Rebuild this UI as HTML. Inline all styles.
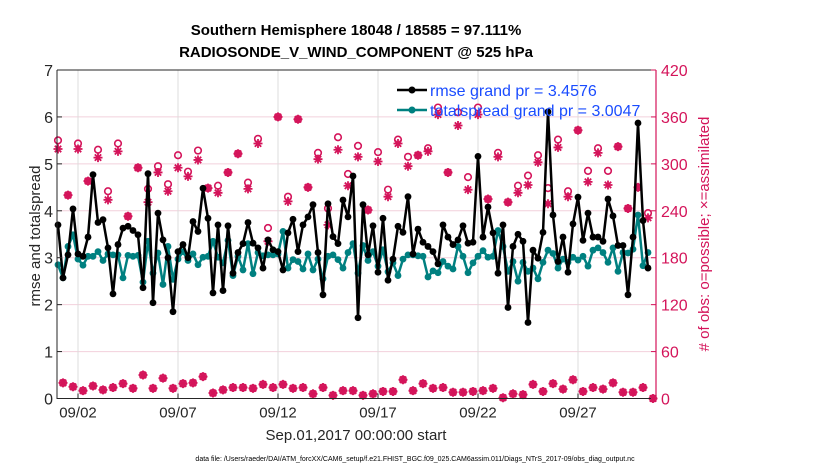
<!DOCTYPE html>
<html><head><meta charset="utf-8"><style>
html,body{margin:0;padding:0;background:#fff;}
svg{display:block;font-family:"Liberation Sans",Arial,sans-serif;}
</style></head><body>
<svg id="chart" width="830" height="470" viewBox="0 0 830 470" xmlns="http://www.w3.org/2000/svg">
<text x="356" y="35" text-anchor="middle" font-size="15" font-weight="bold" fill="#000">Southern Hemisphere 18048 / 18585 = 97.111%</text>
<text x="356" y="57" text-anchor="middle" font-size="15" font-weight="bold" fill="#000">RADIOSONDE_V_WIND_COMPONENT @ 525 hPa</text>
<g id="grid"></g>
<g id="marks"></g>
<g id="axes"></g>
<text x="356" y="440" text-anchor="middle" font-size="15" fill="#262626">Sep.01,2017 00:00:00 start</text>
<text transform="translate(40,236) rotate(-90)" text-anchor="middle" font-size="15" fill="#262626">rmse and totalspread</text>
<text transform="translate(709,234) rotate(-90)" text-anchor="middle" font-size="15" fill="#d4145a"># of obs: o=possible; ×=assimilated</text>
<text x="415" y="461" text-anchor="middle" font-size="7" fill="#000">data file: /Users/raeder/DAI/ATM_forcXX/CAM6_setup/f.e21.FHIST_BGC.f09_025.CAM6assim.011/Diags_NTrS_2017-09/obs_diag_output.nc</text>
<g id="legend">
<line x1="397" y1="90" x2="427" y2="90" stroke="#000" stroke-width="2.5"/>
<circle cx="412" cy="90" r="3.5" fill="#000"/>
<text x="430" y="96" font-size="16" fill="#1a4cff">rmse grand pr = 3.4576</text>
<line x1="397" y1="110" x2="427" y2="110" stroke="#008080" stroke-width="2.5"/>
<circle cx="412" cy="110" r="3.5" fill="#008080"/>
<text x="430" y="116" font-size="16" fill="#1a4cff">totalspread grand pr = 3.0047</text>
</g>
</svg>
<script>
const rmse=[3.70,2.57,3.06,4.04,3.08,3.03,3.44,4.77,3.75,3.81,3.21,2.23,3.28,3.63,3.67,3.58,3.49,2.36,4.79,2.04,3.95,3.38,3.0,1.85,3.13,3.28,3.0,3.77,3.56,4.48,3.84,
2.25,3.70,2.30,3.68,2.67,3.11,3.30,3.75,3.31,3.21,2.78,3.38,3.17,3.13,2.74,3.53,3.82,3.13,3.70,3.87,4.13,3.11,2.21,4.15,3.45,3.30,4.23,3.87,4.74,
1.72,4.13,3.06,3.68,2.69,3.84,2.52,2.97,3.67,3.54,4.30,3.08,3.61,3.33,3.24,3.13,2.87,3.70,3.44,3.28,3.38,3.68,3.31,3.33,5.16,3.44,4.08,3.53,2.67,3.70,1.94,
3.24,3.50,3.35,1.62,3.16,2.99,3.54,6.11,3.91,2.92,3.44,2.69,3.72,4.29,3.37,3.95,3.44,3.44,3.35,4.25,3.89,3.26,3.26,2.21,3.44,5.87,3.79,2.78];
const spread=[2.85,2.57,3.24,3.49,2.97,2.84,3.03,3.03,3.13,2.94,3.08,3.06,3.06,2.57,3.05,3.03,3.05,2.48,3.35,2.67,3.1,2.43,3.24,2.54,2.97,3.13,2.94,3.08,2.85,3.01,3.03,
3.35,3.01,2.89,3.37,2.62,3.03,2.74,3.30,2.66,3.11,3.04,3.06,3.06,3.08,3.56,2.78,2.96,2.92,2.76,3.08,2.74,2.97,2.55,3.03,3.06,2.96,2.78,3.11,3.30,
2.67,3.26,2.94,3.13,2.82,3.17,2.70,2.89,2.62,2.97,3.06,3.06,3.04,3.03,2.59,2.72,2.68,2.92,2.82,2.76,3.24,3.03,2.68,2.89,3.03,3.15,3.01,3.03,3.58,3.24,2.71,
2.92,2.50,2.90,2.71,2.78,2.55,2.90,3.16,3.09,2.78,2.97,2.90,3.01,2.95,3.03,2.82,3.16,3.21,3.11,2.90,3.21,2.71,3.11,3.10,3.18,3.91,2.83,3.11];
// 00Z/12Z counts (even times) and 06Z/18Z counts (odd times)
const possMain=[330,260,326,278,318,265,326,233,295,268,297,274,311,290,317,269,272,289,313,276,332,218,360,258,357,270,314,243,334,287,323,241,315,267,331,309,311,320,372,289,366,283,372,255,314,251,272,285,311,269,331,265,343,291,320,291,322,243,270,237];
const assimMain=[319,260,319,278,308,254,316,233,295,251,289,265,295,284,305,269,263,289,313,268,326,201,360,252,357,270,306,222,318,272,309,241,303,258,326,297,311,316,363,289,349,267,363,255,309,251,263,273,302,249,321,258,343,277,314,273,322,243,270,231];
const countOff=[20,15,10,16,11,14,19,13,30,13,26,13,19,20,28,7,11,14,14,13,18,14,18,13,14,6,14,4,10,10,4,6,9,9,24,10,19,13,14,8,8,9,10,13,1,6,5,18,9,19,12,24,9,14,12,20,8,8,14,0];
const xTickLabels=["09/02","09/07","09/12","09/17","09/22","09/27"];
const xTickDays=[1,6,11,16,21,26];
const yTicks=[0,1,2,3,4,5,6,7];
const y2Ticks=[0,60,120,180,240,300,360,420];

const L=57,R=656,T=70,B=398.5;
const dayMin=-0.05,dayMax=29.9;
const xS=d=>L+(d-dayMin)/(dayMax-dayMin)*(R-L);
const yS=v=>B-v/7*(B-T);
const y2S=v=>B-v/420*(B-T);
const NS="http://www.w3.org/2000/svg";
function mk(tag,parent,attrs){const e=document.createElementNS(NS,tag);for(const k in attrs)e.setAttribute(k,attrs[k]);parent.appendChild(e);return e;}
const grid=document.getElementById('grid'),marks=document.getElementById('marks'),axes=document.getElementById('axes');
const RED="#d4145a",TEAL="#008080";

yTicks.forEach(v=>{const l=mk('line',grid,{x1:L,x2:R,y1:yS(v),y2:yS(v),stroke:"#f2d0dc","stroke-width":1});

});
xTickDays.forEach(d=>{const l=mk('line',grid,{x1:xS(d),x2:xS(d),y1:T,y2:B,stroke:"#dcdcdc","stroke-width":1});

});

const dayOf=i=>i*0.25;
function obsVal(arrMain,i){return i%2===0?arrMain[i/2]:countOff[(i-1)/2];}
for(let i=0;i<120;i++){
  const x=xS(dayOf(i));
  const p=obsVal(possMain,i),a=obsVal(assimMain,i);
  const c=mk('circle',marks,{cx:x,cy:y2S(p),r:3.3,fill:"none",stroke:RED,"stroke-width":1.6});
  
  
  const ya=y2S(a);
  const g=mk('path',marks,{d:`M${x-4.5},${ya}H${x+4.5}M${x},${ya-4.5}V${ya+4.5}M${x-3.2},${ya-3.2}L${x+3.2},${ya+3.2}M${x-3.2},${ya+3.2}L${x+3.2},${ya-3.2}`,stroke:RED,"stroke-width":1.8});
  
  
}
function series(vals,color,name){
  const pts=vals.map((v,i)=>xS(dayOf(i)).toFixed(1)+","+yS(v).toFixed(1)).join(" ");
  const pl=mk('polyline',marks,{points:pts,fill:"none",stroke:color,"stroke-width":2.5,"stroke-linejoin":"round"});
  
  
  vals.forEach((v,i)=>{const c=mk('circle',marks,{cx:xS(dayOf(i)),cy:yS(v),r:3.4,fill:color});
  
  });
}
series(spread,TEAL,'totalspread');
series(rmse,"#000",'rmse');

const box=mk('path',axes,{d:`M${L},${T}H${R}M${L},${T}V${B}H${R}`,fill:"none",stroke:"#262626","stroke-width":1});


const ra=mk('line',axes,{x1:R,x2:R,y1:T,y2:B,stroke:RED,"stroke-width":1.2});


yTicks.forEach(v=>{
  mk('line',axes,{x1:L,x2:L+5,y1:yS(v),y2:yS(v),stroke:"#262626"});
  const t=mk('text',axes,{x:L-4,y:yS(v)+6,"text-anchor":"end","font-size":16,fill:"#262626"});t.textContent=v;
  
  
});
y2Ticks.forEach(v=>{
  mk('line',axes,{x1:R-5,x2:R,y1:y2S(v),y2:y2S(v),stroke:RED});
  const t=mk('text',axes,{x:R+5,y:y2S(v)+6,"text-anchor":"start","font-size":16,fill:RED});t.textContent=v;
  
  
});
xTickDays.forEach((d,k)=>{
  mk('line',axes,{x1:xS(d),x2:xS(d),y1:B,y2:B-5,stroke:"#262626"});
  const t=mk('text',axes,{x:xS(d),y:B+19,"text-anchor":"middle","font-size":15,fill:"#262626"});t.textContent=xTickLabels[k];
  
  
});
</script>
</body></html>
